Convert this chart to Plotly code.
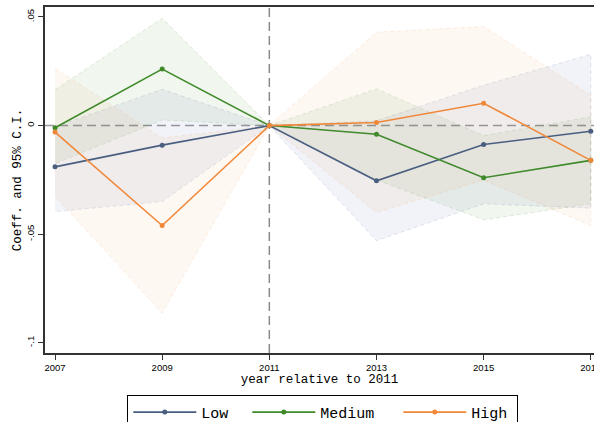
import plotly.graph_objects as go

# Event-study coefficients by group, with 95% confidence bounds
years = [2007, 2009, 2011, 2013, 2015, 2017]

low = [-0.019, -0.009, 0.0, -0.0254, -0.0087, -0.0026]
low_lo = [-0.0396, -0.035, 0.0, -0.053, -0.036, -0.038]
low_hi = [-0.0005, 0.0167, 0.0, 0.0022, 0.0186, 0.0328]

medium = [-0.001, 0.026, 0.0, -0.004, -0.024, -0.016]
medium_lo = [-0.0175, 0.0026, 0.0, -0.025, -0.0434, -0.036]
medium_hi = [0.0165, 0.0494, 0.0, 0.0169, -0.0046, 0.004]

high = [-0.003, -0.046, 0.0, 0.0014, 0.0103, -0.016]
high_lo = [-0.0324, -0.0863, 0.0, -0.040, -0.025, -0.046]
high_hi = [0.0264, -0.0057, 0.0, 0.043, 0.0456, 0.014]

y_ticks = [-0.1, -0.05, 0.0, 0.05]
y_tick_text = ["-.1", "-.05", "0", ".05"]

# name, estimates, lower, upper, line colour, band colour, band alpha, legend entry width
groups = [
    ("Low", low, low_lo, low_hi, (74, 94, 128), (70, 95, 160), 0.075, 41),
    ("Medium", medium, medium_lo, medium_hi, (63, 138, 42), (63, 138, 42), 0.075, 73),
    ("High", high, high_lo, high_hi, (240, 136, 58), (240, 136, 58), 0.06, 41),
]

fig = go.Figure()

# Confidence bands
for name, est, lo, hi, rgb, frgb, alpha, lw in groups:
    fig.add_trace(go.Scatter(
        x=years + years[::-1],
        y=hi + lo[::-1],
        fill="toself",
        fillcolor="rgba(%d,%d,%d,%.3f)" % (*frgb, alpha),
        line=dict(color="rgba(%d,%d,%d,0.15)" % frgb, width=1, dash="4px,3px"),
        mode="lines",
        hoverinfo="skip",
        showlegend=False,
    ))

# Point estimates
for name, est, lo, hi, rgb, frgb, alpha, lw in groups:
    fig.add_trace(go.Scatter(
        x=years,
        y=est,
        mode="lines+markers",
        name=name,
        legendwidth=lw,
        line=dict(color="rgb(%d,%d,%d)" % rgb, width=1.6),
        marker=dict(color="rgb(%d,%d,%d)" % rgb, size=5),
    ))

# Reference lines at zero and at the base year
fig.add_shape(type="line", xref="paper", x0=0, x1=1, yref="y", y0=0, y1=0,
              line=dict(color="#9a9a9a", width=1.5, dash="9px,5px"), layer="below")
fig.add_shape(type="line", xref="x", x0=2011, x1=2011, yref="paper", y0=0, y1=1,
              line=dict(color="#8a8a8a", width=1.5, dash="9px,5px"), layer="below")

fig.update_layout(
    width=594,
    height=422,
    margin=dict(l=45, r=0, t=7, b=69, autoexpand=False),
    paper_bgcolor="white",
    plot_bgcolor="white",
    font=dict(family="Liberation Sans", color="black"),
    xaxis=dict(
        range=[2006.813, 2017.06],
        tickvals=years,
        ticktext=[str(y) for y in years],
        ticks="outside",
        ticklen=5,
        tickwidth=1,
        tickcolor="#333",
        tickfont=dict(family="Liberation Sans", size=9.5),
        ticklabeloverflow="allow",
        showline=True,
        linecolor="#333",
        linewidth=1.5,
        mirror=True,
        showgrid=False,
        zeroline=False,
        title=dict(text="year relative to 2011",
                   font=dict(family="Liberation Mono", size=12.5),
                   standoff=2),
    ),
    yaxis=dict(
        range=[-0.1047, 0.0546],
        tickvals=y_ticks,
        ticktext=y_tick_text,
        tickangle=-90,
        ticks="outside",
        ticklen=5,
        tickwidth=1,
        tickcolor="#333",
        tickfont=dict(family="Liberation Sans", size=9.5),
        showline=True,
        linecolor="#333",
        linewidth=1.5,
        showgrid=False,
        zeroline=False,
        title=dict(text="Coeff. and 95% C.I.",
                   font=dict(family="Liberation Mono", size=12.5),
                   standoff=1),
    ),
    legend=dict(
        orientation="h",
        x=0.506,
        xanchor="center",
        y=-0.121,
        yanchor="top",
        bordercolor="black",
        borderwidth=1,
        bgcolor="white",
        font=dict(family="Liberation Mono", size=15),
        itemwidth=63,
    ),
)

fig.write_html("out.html")
